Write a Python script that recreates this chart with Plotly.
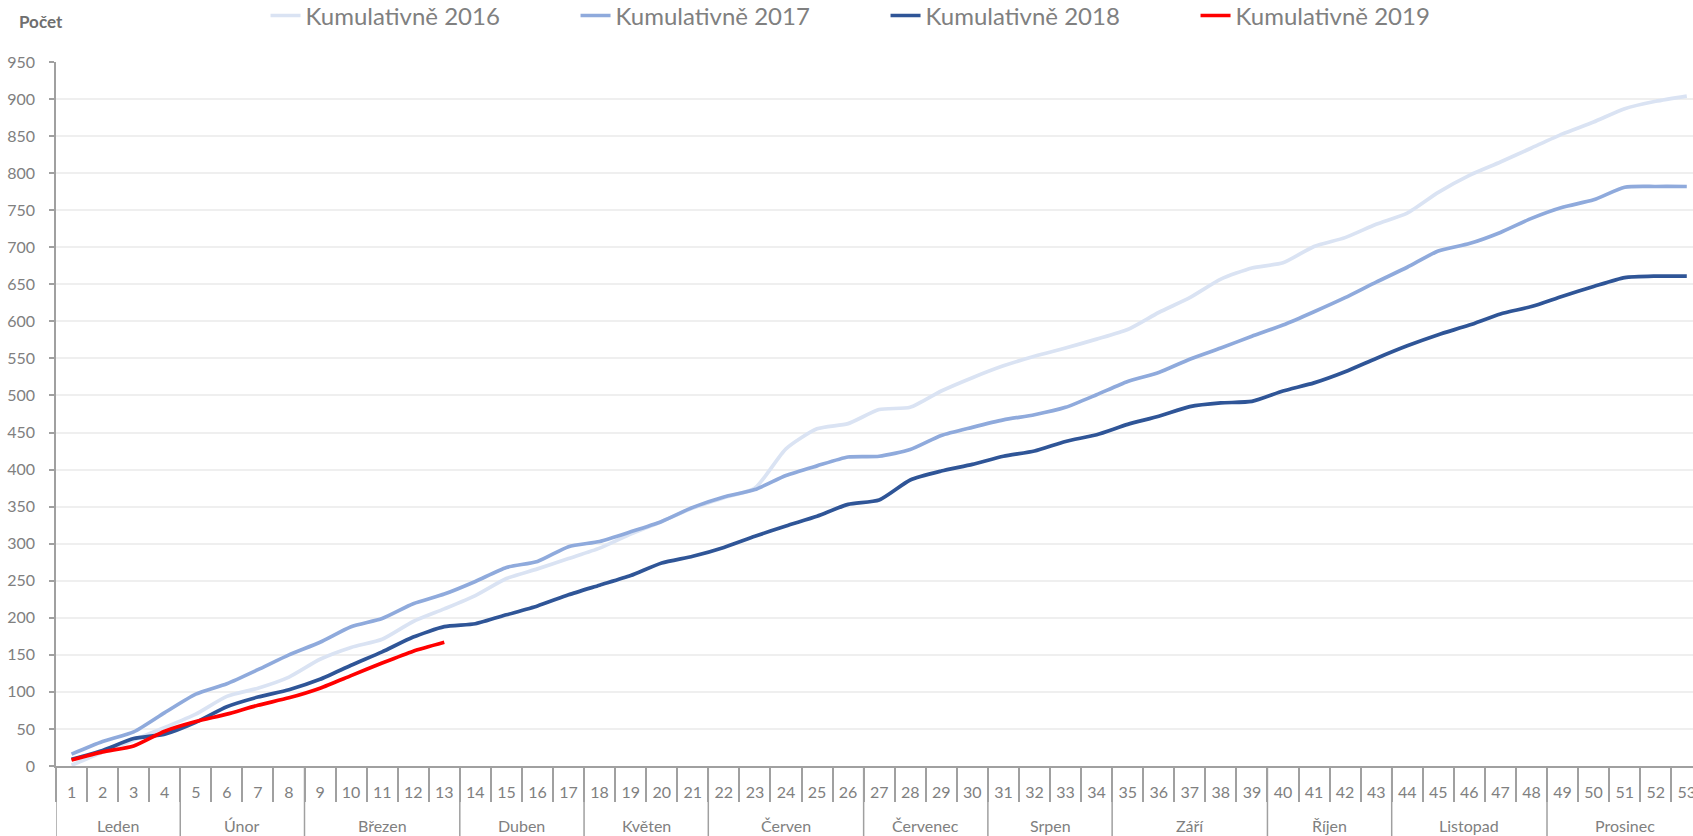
import plotly.graph_objects as go

months = ["Leden", "Únor", "Březen", "Duben", "Květen", "Červen", "Červenec",
          "Srpen", "Září", "Říjen", "Listopad", "Prosinec"]
weeks_in_month = [4, 4, 5, 4, 4, 5, 4, 4, 5, 4, 5, 5]
week_labels = [str(i) for i in range(1, 54)]

kum_2016 = [1, 19, 35, 52, 70, 94, 105, 120, 144, 160, 171, 195, 212, 230, 253, 266, 280, 294,
            313, 330, 348, 362, 375, 428, 455, 462, 481, 484, 506, 524, 540, 553, 564, 576, 589,
            612, 632, 657, 672, 679, 701, 713, 731, 746, 774, 797, 815, 834, 853, 869, 887, 897, 904]
kum_2017 = [16, 33, 46, 72, 97, 111, 130, 150, 167, 188, 199, 219, 232, 249, 268, 276, 296, 303,
            316, 330, 349, 363, 373, 392, 405, 417, 418, 427, 446, 457, 467, 474, 484, 501, 519,
            531, 549, 564, 580, 595, 613, 632, 653, 673, 695, 705, 720, 739, 754, 764, 781, 782, 782]
kum_2018 = [9, 21, 37, 43, 59, 80, 93, 103, 117, 136, 154, 174, 188, 192, 204, 216, 231, 244,
            257, 274, 283, 295, 310, 324, 337, 353, 359, 386, 398, 407, 418, 425, 438, 447, 461,
            472, 485, 490, 492, 506, 517, 532, 550, 567, 582, 595, 610, 620, 634, 647, 659, 661, 661]
kum_2019 = [8, 19, 27, 47, 60, 70, 82, 92, 105, 122, 139, 155, 167]

series_names = ["Kumulativně 2016", "Kumulativně 2017", "Kumulativně 2018", "Kumulativně 2019"]
series_colors = ["#dae3f3", "#8faadc", "#2f5597", "#ff0000"]
y_ticks = list(range(0, 951, 50))

FONT = "Lato, 'Open Sans', sans-serif"
GRAY = "#808080"
AXIS = "#a0a0a0"
X_RANGE = [-0.5, 52.2]

fig = go.Figure()
for name, vals, col in zip(series_names, [kum_2016, kum_2017, kum_2018, kum_2019], series_colors):
    fig.add_trace(go.Scatter(
        x=week_labels[:len(vals)], y=vals, name=name, mode="lines",
        line=dict(color=col, width=3.7, shape="spline", smoothing=0.6),
    ))
# empty carrier trace for the overlay axis that draws the week boundary ticks
fig.add_trace(go.Scatter(x=week_labels, y=[None] * len(week_labels), xaxis="x2",
                         showlegend=False, hoverinfo="skip", mode="lines"))

fig.update_layout(
    width=1693, height=836,
    margin=dict(l=56, r=0, t=62, b=70, autoexpand=False),
    paper_bgcolor="white", plot_bgcolor="white",
    font=dict(family=FONT, color=GRAY),
    legend=dict(orientation="h", x=0.128, xanchor="left", yref="container", y=0.981,
                yanchor="middle", font=dict(size=24, color=GRAY), entrywidth=265,
                entrywidthmode="pixels", itemwidth=30),
    showlegend=True,
    xaxis=dict(
        type="category", categoryorder="array", categoryarray=week_labels,
        range=X_RANGE, automargin=False,
        showline=True, linecolor=AXIS, linewidth=1.5,
        ticks="", ticklabelstandoff=11, ticklabeloverflow="allow",
        tickfont=dict(size=16, color=GRAY), showgrid=False,
    ),
    xaxis2=dict(
        type="category", categoryorder="array", categoryarray=week_labels,
        range=X_RANGE, automargin=False, overlaying="x", anchor="y", side="bottom",
        showline=False, showticklabels=False, showgrid=False,
        ticks="outside", tickson="boundaries", ticklen=35, tickcolor=AXIS, tickwidth=1.5,
    ),
    yaxis=dict(
        range=[0, 950], tickvals=y_ticks, automargin=False,
        showline=True, linecolor=AXIS, linewidth=1.5,
        ticks="outside", ticklen=5, tickcolor=AXIS, tickwidth=1.5,
        tickfont=dict(size=16, color=GRAY), ticklabelstandoff=11,
        showgrid=True, gridcolor="#efefef", gridwidth=1.5, zeroline=False,
    ),
)

# month labels and month dividers, positioned from the week counts
start = 0
for m, n in zip(months, weeks_in_month):
    fig.add_annotation(text=m, x=start + (n - 1) / 2, xref="x", y=-0.0842, yref="paper",
                       yanchor="middle", showarrow=False, font=dict(size=16, color=GRAY))
    fig.add_shape(type="line", xref="x", yref="paper", x0=start - 0.5, x1=start - 0.5,
                  y0=0, y1=-0.12, line=dict(color=AXIS, width=1.5))
    start += n

fig.add_annotation(text="<b>Počet</b>", xref="paper", yref="paper", x=-0.0238, xanchor="left",
                   y=1.0571, yanchor="middle", showarrow=False,
                   font=dict(size=17, color="#6f6f6f"))

fig.write_html("out.html", config={"displayModeBar": False},
               post_script="document.body.style.margin='0';")
